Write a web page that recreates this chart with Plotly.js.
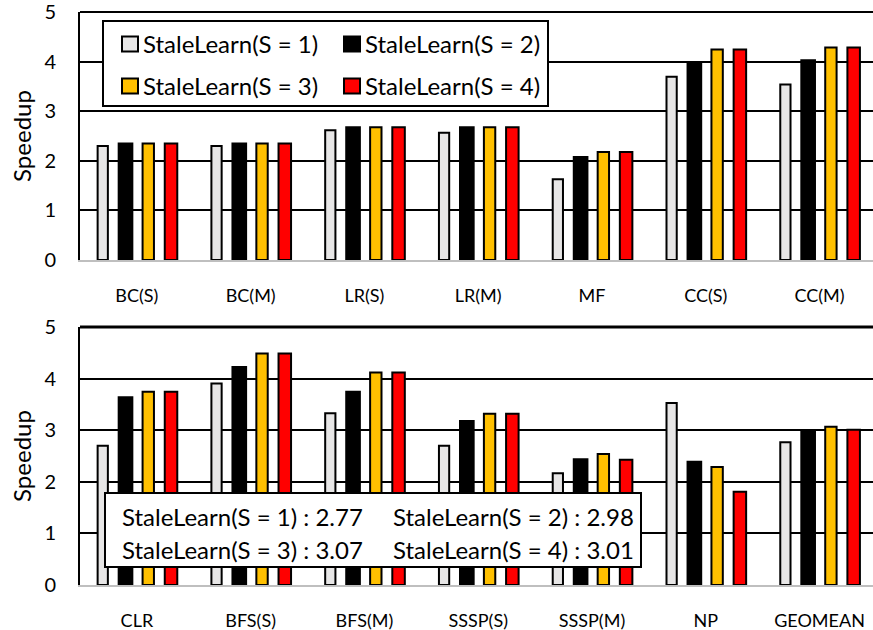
<!DOCTYPE html>
<html>
<head>
<meta charset="utf-8">
<script src="https://cdn.plot.ly/plotly-3.0.1.min.js"></script>
<style>
  html, body { margin: 0; padding: 0; background: #ffffff; }
  #chart { width: 873px; height: 630px; }
</style>
</head>
<body>
<div id="chart"></div>
<script>
// Series and category data
const seriesNames = ['StaleLearn(S = 1)', 'StaleLearn(S = 2)', 'StaleLearn(S = 3)', 'StaleLearn(S = 4)'];
const topCategories = ['BC(S)', 'BC(M)', 'LR(S)', 'LR(M)', 'MF', 'CC(S)', 'CC(M)'];
const bottomCategories = ['CLR', 'BFS(S)', 'BFS(M)', 'SSSP(S)', 'SSSP(M)', 'NP', 'GEOMEAN'];

const topS1 = [2.30, 2.30, 2.62, 2.57, 1.63, 3.70, 3.54];
const topS2 = [2.35, 2.35, 2.68, 2.68, 2.08, 3.98, 4.03];
const topS3 = [2.35, 2.35, 2.68, 2.68, 2.18, 4.25, 4.29];
const topS4 = [2.35, 2.35, 2.68, 2.68, 2.18, 4.25, 4.29];

const bottomS1 = [2.70, 3.91, 3.33, 2.70, 2.17, 3.53, 2.77];
const bottomS2 = [3.64, 4.23, 3.75, 3.18, 2.44, 2.39, 2.98];
const bottomS3 = [3.75, 4.49, 4.12, 3.32, 2.54, 2.29, 3.07];
const bottomS4 = [3.75, 4.49, 4.12, 3.32, 2.43, 1.81, 3.01];

const yTickVals = [0, 1, 2, 3, 4, 5];
const yAxisTitle = 'Speedup';

// Styling
const W = 873, H = 630;
const FONT = 'Lato, "Open Sans", sans-serif';
const fills = ['#E7E6E6', '#000000', '#FFC000', '#FF0000'];
const slotCenters = [-0.3, -0.1, 0.1, 0.3];
const barWidths = [0.09, 0.12, 0.10, 0.11];

const topSeries = [topS1, topS2, topS3, topS4];
const bottomSeries = [bottomS1, bottomS2, bottomS3, bottomS4];

const px = x => x / W;
const py = y => 1 - y / H;

function barTrace(cats, vals, i, xa, ya) {
  return {
    type: 'bar',
    x: cats,
    y: vals,
    xaxis: xa,
    yaxis: ya,
    name: seriesNames[i],
    width: barWidths[i],
    offset: slotCenters[i] - barWidths[i] / 2,
    marker: { color: fills[i], line: { color: '#000000', width: 2 } },
    showlegend: false,
    hoverinfo: 'skip'
  };
}

const traces = [];
topSeries.forEach((s, i) => traces.push(barTrace(topCategories, s, i, 'x', 'y')));
bottomSeries.forEach((s, i) => traces.push(barTrace(bottomCategories, s, i, 'x2', 'y2')));

function xAxis(anchor) {
  return {
    anchor: anchor,
    domain: [px(80), 1],
    range: [-0.5, 6.47],
    showline: true,
    linecolor: '#BFBFBF',
    linewidth: 2,
    showgrid: false,
    zeroline: false,
    ticks: '',
    ticklabelstandoff: 18,
    tickfont: { family: FONT, size: 18, color: '#000000' },
    fixedrange: true
  };
}

function yAxis(anchor, top, bottom) {
  return {
    anchor: anchor,
    domain: [py(bottom), py(top)],
    range: [0, 5.005],
    tickvals: yTickVals,
    showgrid: true,
    gridcolor: '#000000',
    gridwidth: 2,
    zeroline: false,
    showline: true,
    linecolor: '#000000',
    linewidth: 2,
    ticks: '',
    ticklabelstandoff: 18,
    ticklabeloverflow: 'allow',
    tickfont: { family: FONT, size: 20, color: '#000000' },
    title: { text: yAxisTitle, font: { family: FONT, size: 24, color: '#000000' }, standoff: 6 },
    fixedrange: true
  };
}

const shapes = [];
const annotations = [];

// Frame lines along the top of each panel (the lower one is heavier)
shapes.push({
  type: 'line', xref: 'paper', yref: 'paper',
  x0: px(80), x1: 1, y0: py(12), y1: py(12),
  line: { color: '#000000', width: 2 }, layer: 'below'
});
shapes.push({
  type: 'line', xref: 'paper', yref: 'paper',
  x0: px(80), x1: 1, y0: py(327), y1: py(327),
  line: { color: '#000000', width: 3 }, layer: 'above'
});

// Legend box with two columns of swatches
shapes.push({
  type: 'rect', xref: 'paper', yref: 'paper', layer: 'above',
  x0: px(103), x1: px(548), y0: py(106), y1: py(21),
  fillcolor: '#ffffff', line: { color: '#000000', width: 2 }
});
const legendCols = [122, 344];
const legendRows = [44, 86];
seriesNames.forEach((name, i) => {
  const cx = legendCols[i % 2];
  const cy = legendRows[Math.floor(i / 2)];
  shapes.push({
    type: 'rect', xref: 'paper', yref: 'paper', layer: 'above',
    x0: px(cx), x1: px(cx + 16), y0: py(cy + 7.5), y1: py(cy - 7.5),
    fillcolor: fills[i], line: { color: '#000000', width: 2 }
  });
  annotations.push({
    xref: 'paper', yref: 'paper', x: px(cx + 19), y: py(cy),
    xanchor: 'left', yanchor: 'middle', showarrow: false,
    text: name, font: { family: FONT, size: 24, color: '#000000' }
  });
});

// Geometric-mean summary box in the lower panel
shapes.push({
  type: 'rect', xref: 'paper', yref: 'paper', layer: 'above',
  x0: px(105), x1: px(641), y0: py(567), y1: py(493),
  fillcolor: '#ffffff', line: { color: '#000000', width: 2 }
});
const sumCols = [120, 391];
const sumRows = [516, 549];
const geoIndex = bottomCategories.indexOf('GEOMEAN');
seriesNames.forEach((name, i) => {
  annotations.push({
    xref: 'paper', yref: 'paper',
    x: px(sumCols[i % 2]), y: py(sumRows[Math.floor(i / 2)]),
    xanchor: 'left', yanchor: 'middle', showarrow: false,
    text: name + ' : ' + bottomSeries[i][geoIndex].toFixed(2),
    font: { family: FONT, size: 24, color: '#000000' }
  });
});

const layout = {
  width: W,
  height: H,
  margin: { l: 0, r: 0, t: 0, b: 0 },
  paper_bgcolor: '#ffffff',
  plot_bgcolor: '#ffffff',
  barmode: 'overlay',
  showlegend: false,
  font: { family: FONT, color: '#000000' },
  xaxis: xAxis('y'),
  yaxis: yAxis('x', 12, 260),
  xaxis2: xAxis('y2'),
  yaxis2: yAxis('x2', 327, 585),
  shapes: shapes,
  annotations: annotations
};

Plotly.newPlot('chart', traces, layout, { staticPlot: true, displayModeBar: false });
</script>
</body>
</html>
